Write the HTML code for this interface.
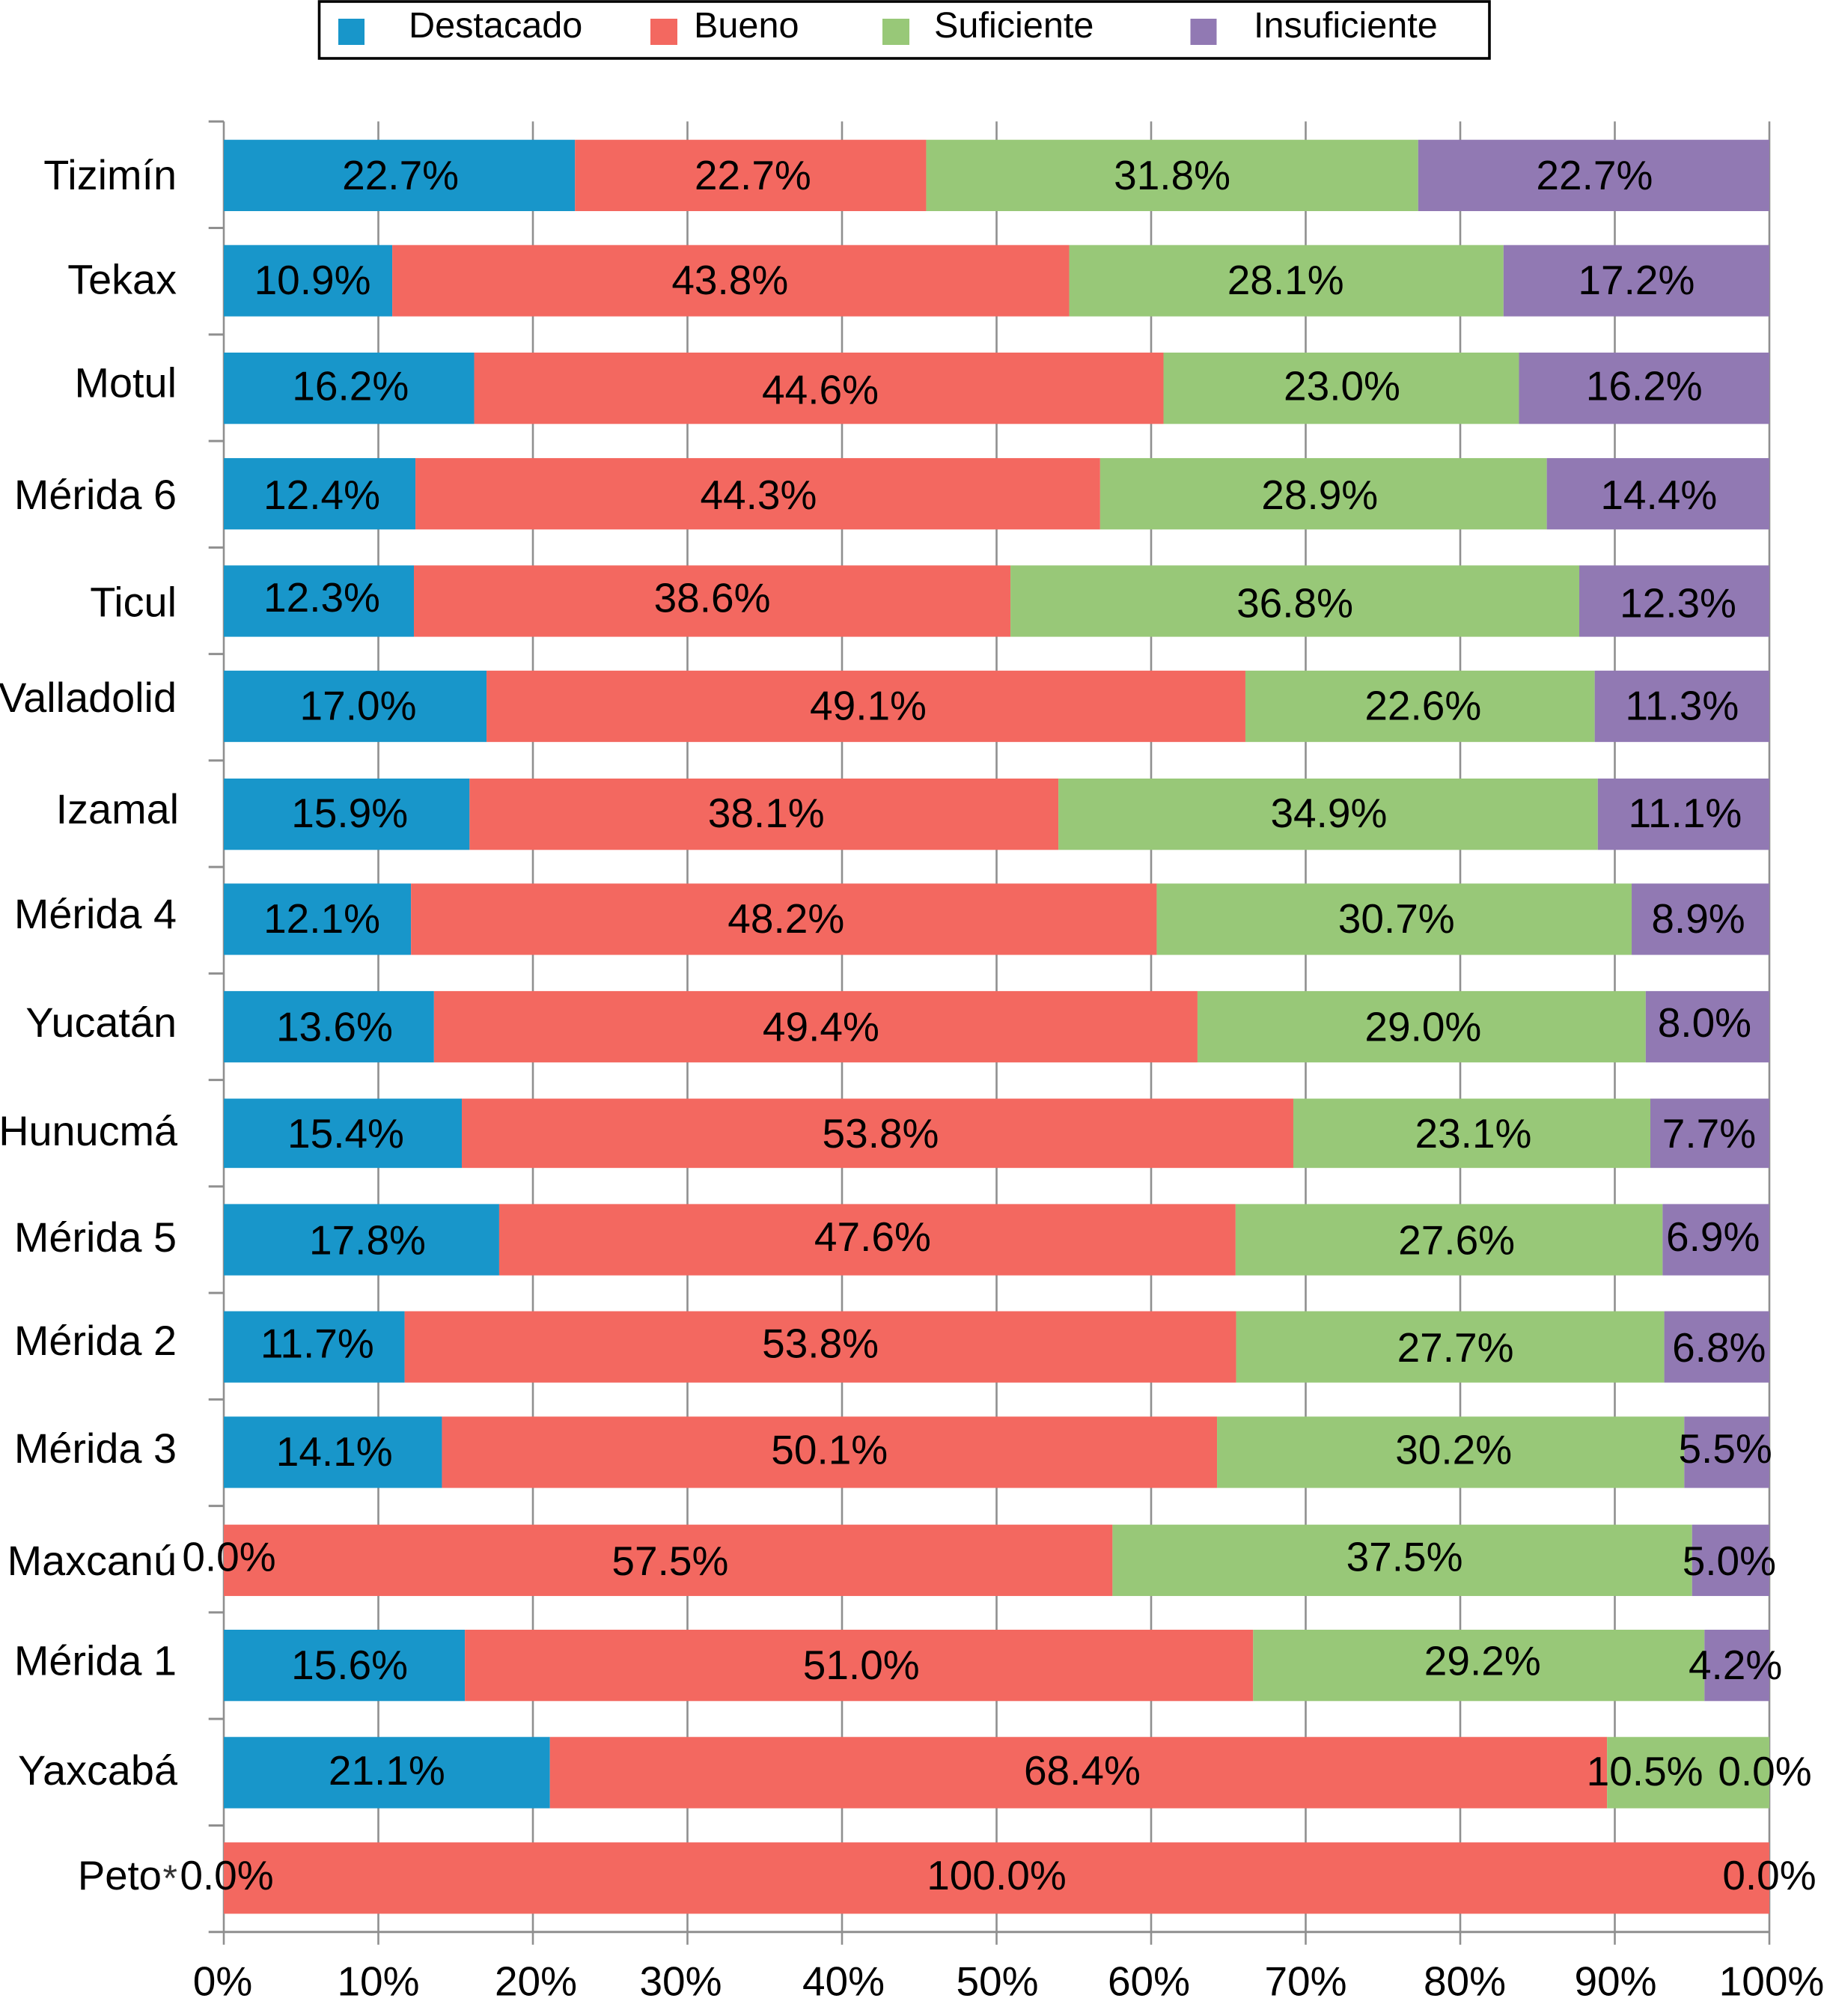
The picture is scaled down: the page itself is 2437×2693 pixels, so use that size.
<!DOCTYPE html>
<html lang="es">
<head>
<meta charset="utf-8">
<title>Niveles de desempeño por región</title>
<style>
  html, body { margin: 0; padding: 0; background: #fff; }
  body { width: 2437px; height: 2693px; overflow: hidden; }
  svg { display: block; }
  text { font-family: "Liberation Sans", Arial, sans-serif; fill: #000; }
</style>
</head>
<body>
<svg id="chart" xmlns="http://www.w3.org/2000/svg" width="2437" height="2693" viewBox="0 0 2437 2693">
  <rect x="0" y="0" width="2437" height="2693" fill="#ffffff"/>
  <g id="grid"></g>
  <g id="bars"></g>
  <g id="ylabels"></g>
  <g id="xlabels"></g>
  <g id="vlabels"></g>
  <g>
    <rect x="426.5" y="2" width="1563.5" height="76" fill="#fff" stroke="#000" stroke-width="3.6"/>
    <rect x="452" y="25" width="35" height="35" fill="#1896ca"/>
    <text x="546" y="50" font-size="48.6">Destacado</text>
    <rect x="869" y="25" width="36" height="35" fill="#f36860"/>
    <text x="927" y="50" font-size="48.6">Bueno</text>
    <rect x="1179" y="25" width="36" height="35" fill="#98c878"/>
    <text x="1248" y="50" font-size="48.6">Suficiente</text>
    <rect x="1590.5" y="25" width="35" height="35" fill="#9179b3"/>
    <text x="1675" y="50" font-size="48.6">Insuficiente</text>
  </g>
</svg>
<script>
// ---- data ----
const categories = ["Tizimín","Tekax","Motul","Mérida 6","Ticul","Valladolid","Izamal","Mérida 4","Yucatán","Hunucmá","Mérida 5","Mérida 2","Mérida 3","Maxcanú","Mérida 1","Yaxcabá","Peto"];
const destacado    = [22.7,10.9,16.2,12.4,12.3,17.0,15.9,12.1,13.6,15.4,17.8,11.7,14.1,0.0,15.6,21.1,0.0];
const bueno        = [22.7,43.8,44.6,44.3,38.6,49.1,38.1,48.2,49.4,53.8,47.6,53.8,50.1,57.5,51.0,68.4,100.0];
const suficiente   = [31.8,28.1,23.0,28.9,36.8,22.6,34.9,30.7,29.0,23.1,27.6,27.7,30.2,37.5,29.2,10.5,null];
const insuficiente = [22.7,17.2,16.2,14.4,12.3,11.3,11.1,8.9,8.0,7.7,6.9,6.8,5.5,5.0,4.2,0.0,0.0];
const xTickValues  = [0,10,20,30,40,50,60,70,80,90,100];

// ---- layout ----
const seriesList = [
  { key: "destacado",    values: destacado,    color: "#1896ca" },
  { key: "bueno",        values: bueno,        color: "#f36860" },
  { key: "suficiente",   values: suficiente,   color: "#98c878" },
  { key: "insuficiente", values: insuficiente, color: "#9179b3" }
];
const plotLeft = 299, plotRight = 2364;
const tickTop = 162.3, tickBottom = 2580.7, gridBottom = 2597.7;
const bandTop = 186.7, bandStep = 142.15, bandHeight = 95.3;
const gridColor = "#8f8f8f";
const svgNS = "http://www.w3.org/2000/svg";

// Hand-placed offsets present in the source figure (relative to computed positions)
const rowShift = [0,-1.5,0,-1.2,0,-1.6,0.4,-1.5,0,1.5,0.2,1.2,-0.2,2,0.2,1.3,0];
const rowHeightAdjust = {9: -2.7};
const nudgeX = [[1.5,3,0,1],[6,-1,-1,0],[2,2,1,0],[3,1,-5,1],[4,0,0,5],[4,3,4,0],[4,3,1,2],[6,3,3,-3],[7.5,7,2,-4],[4,4,2,-1],[8,7,10,-4],[4,0,7,3],[2,0,4,-2],[7,2.7,3,-2],[7,3,5,-2],[0,5,-58,-6],[4,0,0,0]];
const nudgeY = [[-0.5,-0.5,-0.5,-0.5],[-1,-1,-1,-1],[-3,2,-3,-3],[1.5,1.5,1.5,1.5],[-5,-4.5,2.5,2.5],[-1,-1,-1,-1],[-1.5,-1.5,-1.5,-1.5],[-1,-1,-1,-1],[0,0,0,-5.7],[0,0,0,0],[0.6,-4,0.6,-4],[-4.8,-4.8,0.7,0.7],[-1,-3.5,-3.5,-5],[-5,0.6,-5,0.6],[-0.6,-0.6,-6,-0.6],[-2.7,-2.7,-2,-2],[-3.8,-3.8,-3.8,-3.8]];
const catNudgeY = [-0.35,-1.3,-7.2,1.6,1.5,-11.3,-6.5,-7,-5.7,-3.3,-3.2,-8.3,-5,0.6,-6,-3,-3.8];
const catNudgeX = [0,0,0,0,0,0,3,0,0,1,0,0,0,0,0,1,0];
const xTickNudge = [-1.5,0,4,-9,2,1,-3,0,6,1,3];

// ---- scales ----
function xScale(pct) { return plotLeft + (plotRight - plotLeft) * pct / 100; }
function yBand(i) { return bandTop + bandStep * i + rowShift[i]; }
function yTick(i) { return tickTop + (tickBottom - tickTop) * i / categories.length; }

function make(tag, parent, attrs) {
  const el = document.createElementNS(svgNS, tag);
  for (const k in attrs) el.setAttribute(k, attrs[k]);
  parent.appendChild(el);
  return el;
}

const gridG = document.getElementById("grid");
const barsG = document.getElementById("bars");
const yLabG = document.getElementById("ylabels");
const xLabG = document.getElementById("xlabels");
const valG  = document.getElementById("vlabels");

// vertical gridlines + x labels
xTickValues.forEach(function (v, t) {
  const x = xScale(v);
  const line = make("line", gridG, { x1: x, x2: x, y1: tickTop, y2: gridBottom, stroke: gridColor, "stroke-width": 2.6 });
  
  
  const label = make("text", xLabG, { x: x + xTickNudge[t], y: 2665.7, "font-size": 55, "text-anchor": "middle" });
  label.textContent = v + "%";
  
  
});

// y ticks
for (let i = 0; i <= categories.length; i++) {
  const y = yTick(i);
  const tick = make("line", gridG, { x1: 278.7, x2: plotLeft, y1: y, y2: y, stroke: gridColor, "stroke-width": 3 });
  
  
}
const baseline = make("line", gridG, { x1: plotLeft, x2: plotRight, y1: tickBottom, y2: tickBottom, stroke: gridColor, "stroke-width": 3 });



// bars and labels
categories.forEach(function (name, i) {
  const top = yBand(i);
  const h = bandHeight + (rowHeightAdjust[i] || 0);
  const mid = top + bandHeight / 2 + (i === 9 ? -1 : 0);
  let total = 0;
  seriesList.forEach(function (s) { total += s.values[i] || 0; });
  let cum = 0;
  seriesList.forEach(function (s, k) {
    const raw = s.values[i];
    const val = raw || 0;
    const p0 = cum / total * 100;
    const p1 = (cum + val) / total * 100;
    cum += val;
    if (val > 0) {
      const rect = make("rect", barsG, { x: xScale(p0), y: top, width: xScale(p1) - xScale(p0), height: h, fill: s.color });
      
      
    }
    if (raw !== null) {
      const t = make("text", valG, {
        x: xScale((p0 + p1) / 2) + nudgeX[i][k],
        y: mid + 19 + nudgeY[i][k],
        "font-size": 55,
        "text-anchor": "middle"
      });
      t.textContent = raw.toFixed(1) + "%";
      
      
    }
  });

  const baseY = mid + 19 + catNudgeY[i];
  const isPeto = name === "Peto";
  const cat = make("text", yLabG, {
    x: (isPeto ? 216 : 236) + catNudgeX[i],
    y: baseY,
    "font-size": isPeto ? 54.5 : 55.8,
    "text-anchor": "end"
  });
  cat.textContent = name;
  
  
  if (isPeto) {
    const star = make("text", yLabG, { x: 237, y: baseY + 2, "font-size": 50, "text-anchor": "end", style: "fill:#333" });
    star.textContent = "*";
    
    
  }
});
</script>
</body>
</html>
